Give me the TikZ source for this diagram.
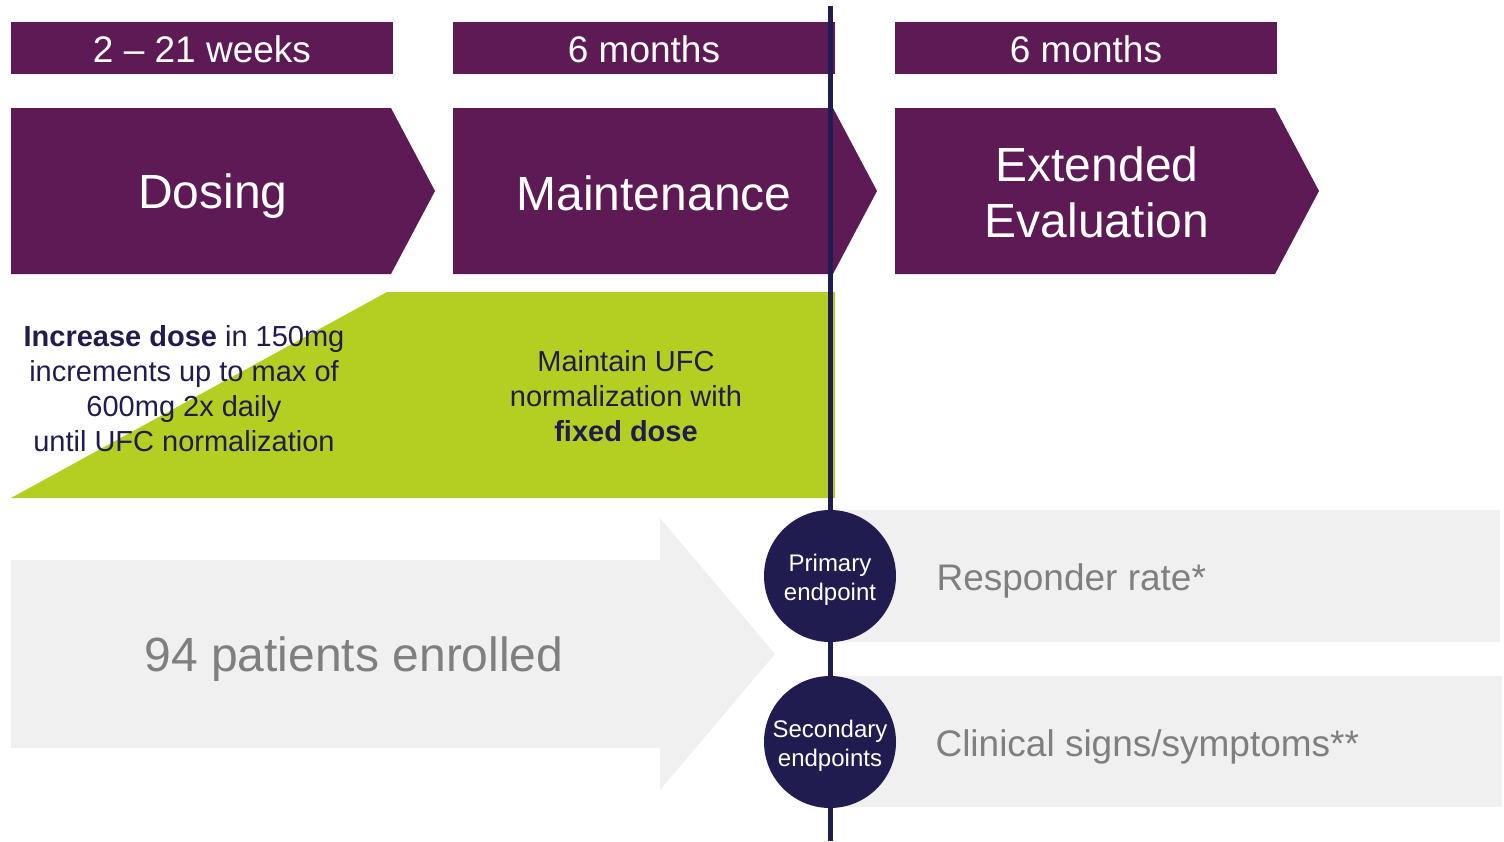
\documentclass[tikz,border=0pt]{standalone}
\usepackage{fontspec}
\setmainfont{Liberation Sans}
\definecolor{plum}{HTML}{5E1A55}
\definecolor{navy}{HTML}{211C50}
\definecolor{lime}{HTML}{B5CE22}
\definecolor{pale}{HTML}{F0F0F0}
\definecolor{greytext}{HTML}{7F7F7F}
\tikzset{
  barlabel/.style={text=white, font=\fontsize{37}{44}\selectfont},
  phaselabel/.style={text=white, align=center, font=\fontsize{48}{58}\selectfont},
  bodytext/.style={text=navy, align=center, font=\fontsize{29}{35}\selectfont},
  greylabel/.style={text=greytext, anchor=west, font=\fontsize{37}{44}\selectfont},
  biglabel/.style={text=greytext, font=\fontsize{48}{58}\selectfont},
  endpoint/.style={circle, fill=navy, minimum size=132pt, inner sep=0pt, text=white, font=\fontsize{24}{29}\selectfont},
}
\newcommand{\eptext}[2]{\raisebox{-4pt}[\height][\depth]{\begin{tabular}{@{}c@{}}#1\\#2\end{tabular}}}
\begin{document}
\begin{tikzpicture}[x=1pt,y=-1pt]
\useasboundingbox (0,0) rectangle (1504,841);
% top duration bars
\fill[plum] (11,22) rectangle (393,74);
\fill[plum] (453,22) rectangle (835,74);
\fill[plum] (895,22) rectangle (1277,74);
\node[barlabel] (w1) at (202,49) {2 -- 21 weeks};
\node[barlabel] (w2) at (644,49) {6 months};
\node[barlabel] (w3) at (1086,49) {6 months};
% chevrons
\fill[plum] (11,108) -- (391,108) -- (435,191) -- (391,274) -- (11,274) -- cycle;
\fill[plum] (453,108) -- (833,108) -- (877,191) -- (833,274) -- (453,274) -- cycle;
\fill[plum] (895,108) -- (1275,108) -- (1319,191) -- (1275,274) -- (895,274) -- cycle;
\node[phaselabel] (dosing) at (213,196) {Dosing};
\node[phaselabel] (maint) at (654,193) {Maintenance};
\node[phaselabel] (ext) at (1097,192) {Extended\\[-2pt]Evaluation};
% green wedge
\fill[lime] (11,498) -- (387,292) -- (835,292) -- (835,498) -- cycle;
\node[bodytext] (inc) at (184,389) {\textbf{Increase dose} in 150mg\\increments up to max of\\600mg 2x daily\\until UFC normalization};
\node[bodytext] (fix) at (626,396) {Maintain UFC\\normalization with\\\textbf{fixed dose}};
% grey arrow and endpoint bands
\fill[pale] (11,560) -- (660,560) -- (660,518) -- (775,654) -- (660,790) -- (660,748) -- (11,748) -- cycle;
\node[biglabel] (enrol) at (354,659) {94 patients enrolled};
\fill[pale] (830,510) rectangle (1500,642);
\fill[pale] (830,676) rectangle (1502,807);
% timeline
\coordinate (ltop) at (830,6);
\coordinate (lbot) at (830,841);
\draw[navy, line width=5pt] (ltop) -- (lbot);
\node[endpoint] (prim) at (830,576) {\eptext{Primary}{endpoint}};
\node[endpoint] (sec) at (830,742) {\eptext{Secondary}{endpoints}};
\node[greylabel] (resp) at (933,581) {Responder rate*};
\node[greylabel] (clin) at (932,747) {Clinical signs/symptoms**};
\end{tikzpicture}
\end{document}
